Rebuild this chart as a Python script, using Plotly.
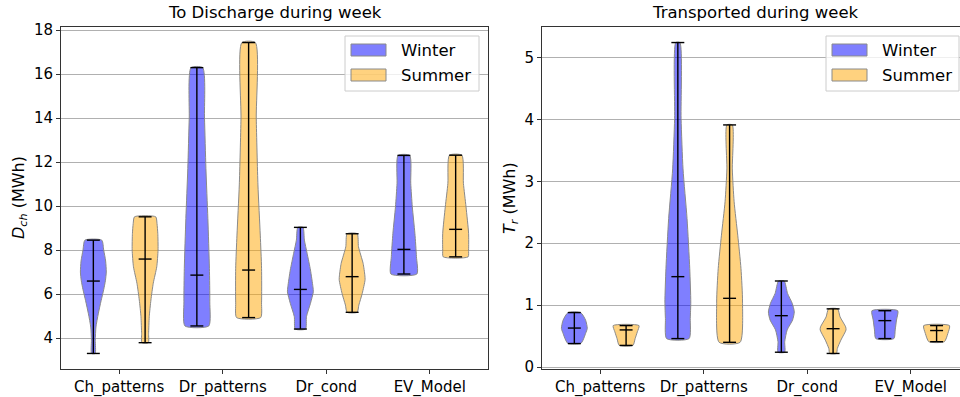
import plotly.graph_objects as go

# ---------------- data ----------------
categories = ["Ch_patterns", "Dr_patterns", "Dr_cond", "EV_Model"]
seasons = ["Winter", "Summer"]

# Left panel: energy to discharge during week, D_ch (MWh)
dch_winter_min = [3.30, 4.55, 4.41, 6.91]
dch_winter_max = [8.45, 16.29, 9.03, 12.30]
dch_winter_median = [6.59, 6.86, 6.21, 8.03]
dch_summer_min = [3.79, 4.93, 5.17, 7.69]
dch_summer_max = [9.51, 17.43, 8.74, 12.31]
dch_summer_median = [7.59, 7.09, 6.79, 8.94]

# violin outlines: levels (MWh) and relative density (1 = widest point)
dch_winter_levels = [
    [3.30, 3.90, 4.50, 5.10, 5.70, 6.20, 6.60, 7.00, 7.50, 8.00, 8.45],
    [4.55, 5.65, 7.17, 9.44, 11.71, 13.99, 16.29],
    [4.41, 4.97, 5.58, 6.10, 6.33, 7.09, 7.85, 8.45, 9.03],
    [6.91, 7.70, 8.76, 9.97, 11.03, 12.30],
]
dch_winter_density = [
    [0.14, 0.15, 0.20, 0.38, 0.60, 0.80, 0.93, 1.00, 0.95, 0.80, 0.65],
    [0.92, 1.00, 0.97, 0.85, 0.70, 0.59, 0.45],
    [0.40, 0.47, 0.78, 1.00, 0.97, 0.78, 0.52, 0.31, 0.20],
    [1.00, 0.97, 0.85, 0.65, 0.53, 0.45],
]
dch_summer_levels = [
    [3.79, 4.20, 4.97, 5.73, 6.49, 7.24, 8.00, 8.76, 9.20, 9.51],
    [4.93, 5.60, 7.17, 8.68, 10.96, 13.99, 17.43],
    [5.17, 5.50, 6.03, 6.65, 6.86, 7.39, 8.15, 8.74],
    [7.69, 8.00, 8.76, 9.97, 11.03, 12.31],
]
dch_summer_density = [
    [0.25, 0.27, 0.32, 0.45, 0.63, 0.90, 1.00, 0.98, 0.92, 0.82],
    [0.93, 1.00, 1.00, 0.90, 0.72, 0.59, 0.52],
    [0.39, 0.52, 0.78, 1.00, 0.98, 0.85, 0.49, 0.39],
    [0.96, 1.00, 1.00, 0.80, 0.60, 0.48],
]

# Right panel: energy transported during week, T_r (MWh)
tr_winter_min = [0.38, 0.46, 0.24, 0.46]
tr_winter_max = [0.88, 5.24, 1.39, 0.91]
tr_winter_median = [0.63, 1.46, 0.83, 0.75]
tr_summer_min = [0.35, 0.40, 0.22, 0.41]
tr_summer_max = [0.67, 3.91, 0.94, 0.67]
tr_summer_median = [0.60, 1.11, 0.62, 0.59]

tr_winter_levels = [
    [0.38, 0.435, 0.543, 0.624, 0.758, 0.88],
    [0.46, 0.785, 1.05, 1.59, 2.40, 3.20, 4.01, 5.24],
    [0.24, 0.41, 0.60, 0.76, 0.89, 1.03, 1.19, 1.39],
    [0.46, 0.60, 0.76, 0.91],
]
tr_winter_density = [
    [0.49, 0.67, 0.87, 1.00, 0.87, 0.49],
    [0.87, 0.96, 1.00, 0.92, 0.71, 0.40, 0.25, 0.16],
    [0.26, 0.26, 0.45, 0.87, 1.00, 0.84, 0.48, 0.22],
    [0.70, 0.80, 0.90, 1.00],
]
tr_summer_levels = [
    [0.35, 0.46, 0.57, 0.67],
    [0.40, 1.05, 1.59, 2.13, 2.67, 3.20, 3.91],
    [0.22, 0.30, 0.435, 0.60, 0.65, 0.81, 0.94],
    [0.41, 0.543, 0.67],
]
tr_summer_density = [
    [0.53, 0.70, 0.87, 1.00],
    [0.81, 1.00, 0.88, 0.63, 0.35, 0.21, 0.21],
    [0.26, 0.33, 0.60, 1.00, 0.97, 0.54, 0.35],
    [0.60, 0.87, 1.00],
]

# ---------------- styling ----------------
FONT = "DejaVu Sans"
fill_colors = {"Winter": "rgba(0,0,255,0.5)", "Summer": "rgba(255,165,0,0.5)"}
edge_color = "#8a8a8a"
offsets = {"Winter": -0.25, "Summer": 0.25}
half_width = 0.125      # violin width 0.25
cap_half = 0.0625       # extrema/median line half length

W, H = 960, 397
ML, MR, MT, MB = 61, 0, 27, 28
PW, PH = W - ML - MR, H - MT - MB


def px(xp):
    return (xp - ML) / PW


def py(yp):
    return 1 - (yp - MT) / PH


fig = go.Figure()

panels = [
    dict(xa="x", ya="y",
         data={"Winter": (dch_winter_min, dch_winter_max, dch_winter_median,
                          dch_winter_levels, dch_winter_density),
               "Summer": (dch_summer_min, dch_summer_max, dch_summer_median,
                          dch_summer_levels, dch_summer_density)}),
    dict(xa="x2", ya="y2",
         data={"Winter": (tr_winter_min, tr_winter_max, tr_winter_median,
                          tr_winter_levels, tr_winter_density),
               "Summer": (tr_summer_min, tr_summer_max, tr_summer_median,
                          tr_summer_levels, tr_summer_density)}),
]

for p in panels:
    lx, ly = [], []
    for season in seasons:
        mins, maxs, meds, levels, dens = p["data"][season]
        for i, cat in enumerate(categories):
            pos = i + 1 + offsets[season]
            lv = levels[i]
            dn = dens[i]
            xs = [pos + d * half_width for d in dn] + [pos - d * half_width for d in reversed(dn)]
            ys = list(lv) + list(reversed(lv))
            xs.append(xs[0])
            ys.append(ys[0])
            fig.add_trace(go.Scatter(
                x=xs, y=ys, xaxis=p["xa"], yaxis=p["ya"],
                mode="lines", fill="toself", fillcolor=fill_colors[season],
                line=dict(color=edge_color, width=1, shape="spline", smoothing=0.6),
                name=season, showlegend=False, hoverinfo="skip",
            ))
            # central bar, min, max and median lines
            lx += [pos, pos, None]
            ly += [mins[i], maxs[i], None]
            for v in (mins[i], maxs[i], meds[i]):
                lx += [pos - cap_half, pos + cap_half, None]
                ly += [v, v, None]
    fig.add_trace(go.Scatter(
        x=lx, y=ly, xaxis=p["xa"], yaxis=p["ya"], mode="lines",
        line=dict(color="black", width=1.4), showlegend=False, hoverinfo="skip",
    ))


def padded(lo, hi):
    m = (hi - lo) * 0.05
    return [lo - m, hi + m]


left_range = padded(min(dch_winter_min + dch_summer_min), max(dch_winter_max + dch_summer_max))
right_range = padded(min(tr_winter_min + tr_summer_min), max(tr_winter_max + tr_summer_max))

axis_common = dict(
    showline=True, linecolor="#333333", linewidth=1,
    ticks="outside", ticklen=4, tickcolor="#333333", tickwidth=1,
    tickfont=dict(family=FONT, size=15, color="black"),
    zeroline=False,
)

# ---- legends drawn like matplotlib's (wide patches in a rounded-looking box) ----
shapes = []
annotations = []
for box_left, box_right in ((345, 479), (826, 959)):
    shapes.append(dict(type="rect", xref="paper", yref="paper",
                       x0=px(box_left), x1=px(box_right), y0=py(91), y1=py(36),
                       fillcolor="rgba(255,255,255,0.8)",
                       line=dict(color="#cccccc", width=1), layer="above"))
    for k, season in enumerate(seasons):
        yc = 50 + 25 * k
        shapes.append(dict(type="rect", xref="paper", yref="paper",
                           x0=px(box_left + 6), x1=px(box_left + 41),
                           y0=py(yc + 6), y1=py(yc - 6),
                           fillcolor=fill_colors[season],
                           line=dict(color=edge_color, width=1), layer="above"))
        annotations.append(dict(text=season, xref="paper", yref="paper",
                                x=px(box_left + 54), y=py(yc), xanchor="left",
                                yanchor="middle", showarrow=False,
                                font=dict(family=FONT, size=16.5, color="black")))

annotations += [
    dict(text="To Discharge during week", xref="paper", yref="paper",
         x=px(274.5), y=py(12), xanchor="center", yanchor="middle",
         showarrow=False, font=dict(family=FONT, size=16.5, color="black")),
    dict(text="Transported during week", xref="paper", yref="paper",
         x=px(755.5), y=py(12), xanchor="center", yanchor="middle",
         showarrow=False, font=dict(family=FONT, size=16.5, color="black")),
    dict(text="<i>D<sub>ch</sub></i> (MWh)", xref="paper", yref="paper",
         x=px(19), y=0.5, xanchor="center", yanchor="middle", textangle=-90,
         showarrow=False, font=dict(family=FONT, size=16, color="black")),
    dict(text="<i>T<sub>r</sub></i> (MWh)", xref="paper", yref="paper",
         x=px(510), y=0.5, xanchor="center", yanchor="middle", textangle=-90,
         showarrow=False, font=dict(family=FONT, size=16, color="black")),
]

fig.update_layout(
    width=W, height=H,
    margin=dict(l=ML, r=MR, t=MT, b=MB, pad=0),
    plot_bgcolor="white", paper_bgcolor="white",
    font=dict(family=FONT, size=15, color="black"),
    showlegend=False,
    xaxis=dict(domain=[0, px(488)], range=[0.4375, 4.5625],
               tickvals=[1, 2, 3, 4], ticktext=categories, showgrid=False,
               mirror=True, anchor="y", **axis_common),
    yaxis=dict(range=left_range, tickvals=[4, 6, 8, 10, 12, 14, 16, 18],
               showgrid=True, gridcolor="#b0b0b0", gridwidth=1,
               mirror=True, anchor="x", **axis_common),
    xaxis2=dict(domain=[px(542), 1], range=[0.4375, 0.4375 + 418 / 103.5],
                tickvals=[1, 2, 3, 4], ticktext=categories, showgrid=False,
                mirror=True, anchor="y2", **axis_common),
    yaxis2=dict(range=right_range, tickvals=[0, 1, 2, 3, 4, 5],
                showgrid=True, gridcolor="#b0b0b0", gridwidth=1,
                mirror=False, anchor="x2", **axis_common),
    shapes=shapes,
    annotations=annotations,
)

fig.write_html("out.html")
